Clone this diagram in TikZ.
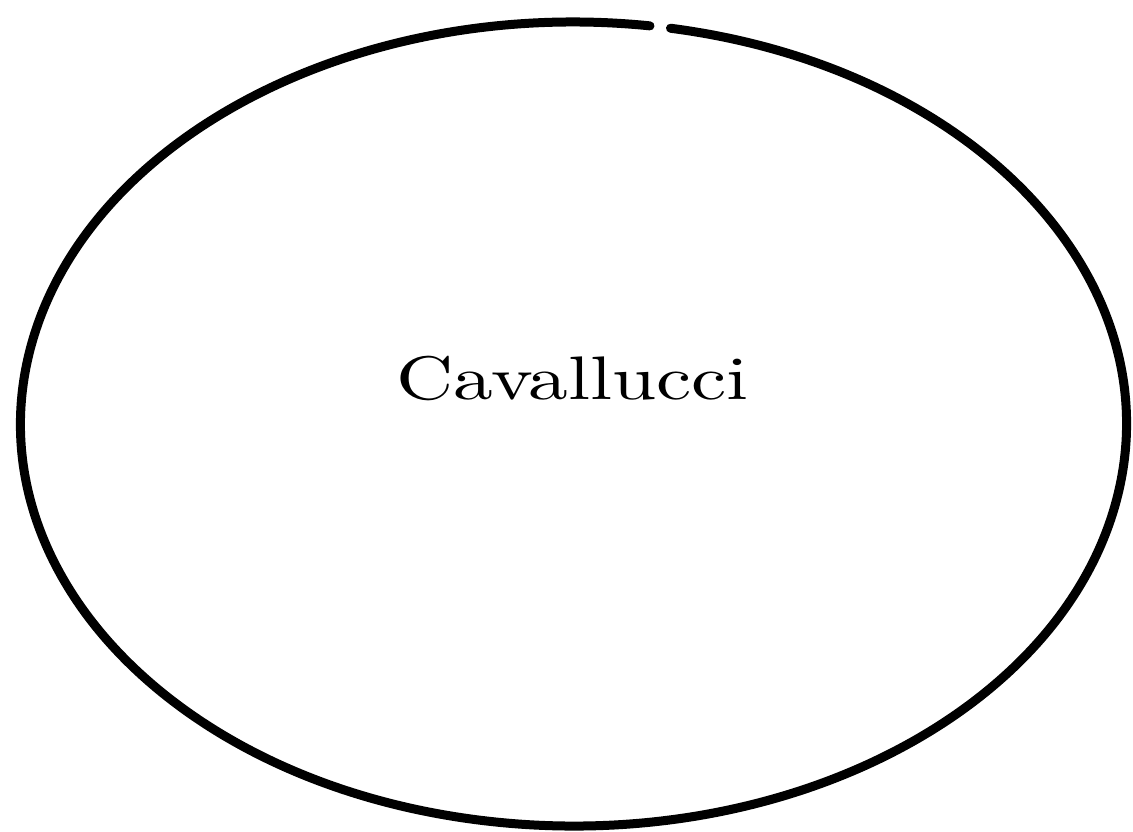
\documentclass[tikz,border=0pt]{standalone}
\usepackage{graphicx}
\tikzset{
  outline/.style={line width=9pt, line cap=round, black},
  label/.style={font=\fontsize{10}{12}\selectfont, inner sep=0pt, anchor=base}
}
\begin{document}
\begin{tikzpicture}[x=1pt,y=1pt]
\useasboundingbox (0,0) rectangle (1133,831);
\coordinate (c) at (573.5,407);
\draw[outline] (c) ++(79.9:553 and 402) arc[start angle=79.9, end angle=-277.95, x radius=553, y radius=402];
\node[label] (name) at (572.5,431) {\scalebox{7.93}[6.15]{Cavallucci}};
\end{tikzpicture}
\end{document}
